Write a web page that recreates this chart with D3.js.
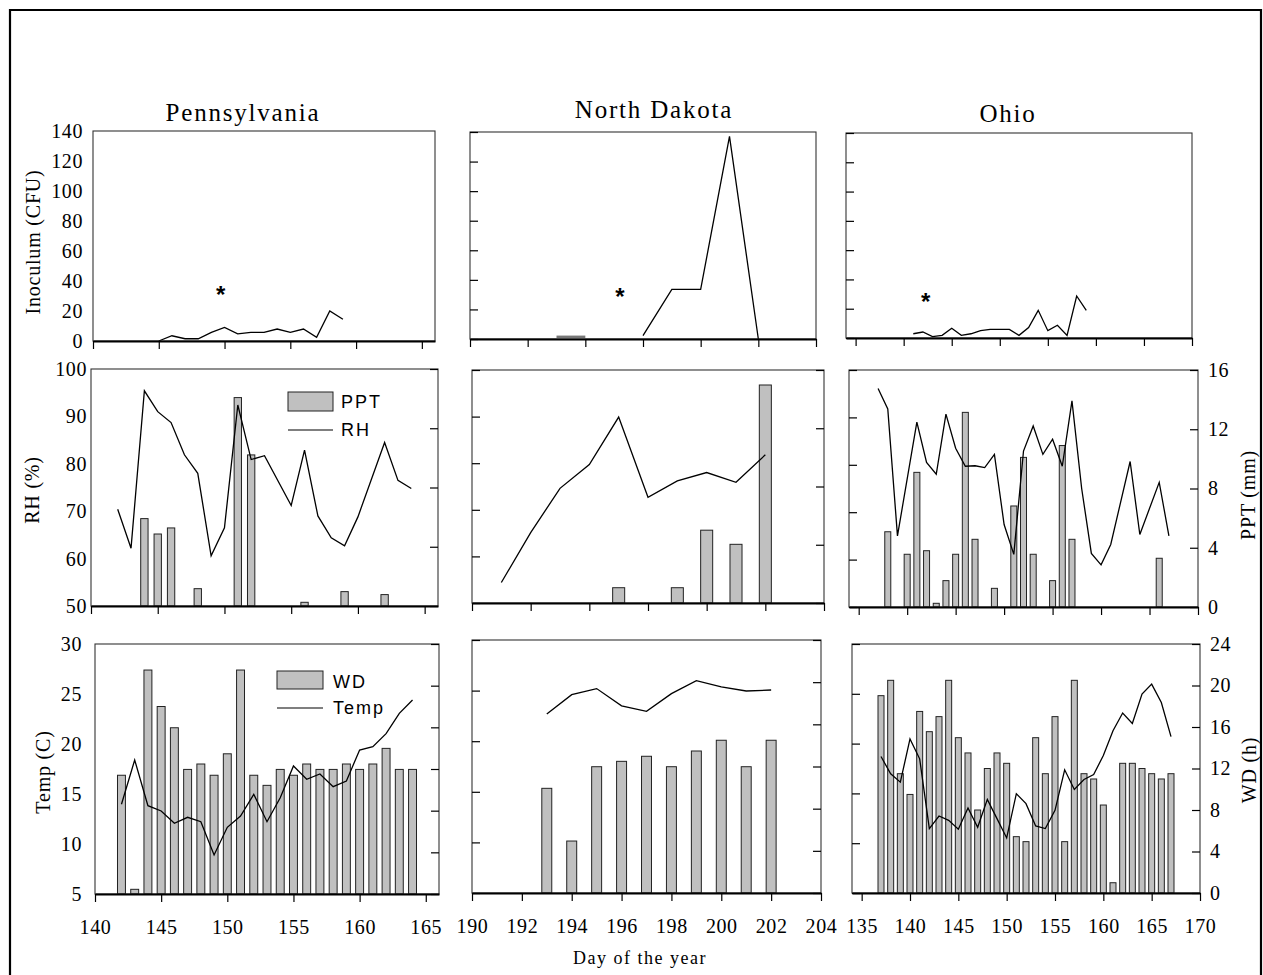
<!DOCTYPE html>
<html><head><meta charset="utf-8">
<script src="https://cdn.jsdelivr.net/npm/d3@7"></script>
<style>body{margin:0;background:#fff}svg{display:block}</style>
</head><body>
<svg id="c" width="1263" height="975"></svg>
<script>
// ---------------- DATA ----------------
const states = ["Pennsylvania", "North Dakota", "Ohio"];

// Inoculum (CFU) [day, value]
const paInoc = [[145,0],[146,3.5],[147,1.5],[148,1.5],[149,5.8],[150,9],[151,4.7],[152,5.8],[153,5.8],[154,8],[155,5.8],[156,8],[157,2.4],[158,20],[159,14.5]];
const ndInocTrace = [[195,1.5],[196,1.5]];
const ndInoc = [[198,2.3],[199,33.6],[200,33.6],[201,137],[202,0]];
const ohInoc = [[141,2.9],[142,4.1],[143,0.9],[144,1.8],[145,6.6],[146,1.8],[147,2.9],[148,5.0],[149,5.9],[150,5.9],[151,5.9],[152,1.8],[153,7.1],[154,18.9],[155,5.0],[156,8.7],[157,1.8],[158,28.7],[159,18.9]];
const paStar = [149.7, 35], ndStar = [197.2, 33], ohStar = [142.3, 29];

// RH (%) and PPT (mm)
const paRH = [[142,70.4],[143,62.2],[144,95.4],[145,91],[146,88.7],[147,81.9],[148,78],[149,60.6],[150,66.5],[151,92.4],[152,80.9],[153,81.7],[155,71.2],[156,82.9],[157,69],[158,64.4],[159,62.7],[160,68.8],[162,84.5],[163,76.5],[164,74.8]];
const paPPT = [[144,5.9],[145,4.86],[146,5.27],[148,1.17],[151,14.07],[152,10.2],[156,0.25],[159,0.97],[162,0.77]];
const ndRH = [[193,54.4],[194,65.1],[195,74.6],[196,79.7],[197,89.9],[198,72.7],[199,76.2],[200,78],[201,75.9],[202,81.8]];
const ndPPT = [[197,1.05],[199,1.05],[200,5.0],[201,4.03],[202,14.97]];
const ohRH = [[137,96.1],[138,91.8],[139,65],[141,89],[142,80.5],[143,78],[144,90.7],[145,83.5],[146,79.7],[147,79.8],[148,79.4],[149,82.2],[150,67.4],[151,61.1],[152,82.9],[153,88.2],[154,82.2],[155,85.4],[156,79.7],[157,93.5],[158,75],[159,61.3],[160,58.9],[161,63.2],[163,80.7],[164,65.3],[166,76.3],[167,65]];
const ohPPT = [[138,5.08],[140,3.56],[141,9.09],[142,3.8],[143,0.25],[144,1.78],[145,3.56],[146,13.14],[147,4.57],[149,1.26],[151,6.82],[152,10.1],[153,3.56],[155,1.78],[156,10.9],[157,4.57],[166,3.29]];

// Temp (C) and WD (h)
const paWD = [[142,11.4],[143,0.45],[144,21.5],[145,18.0],[146,15.96],[147,11.96],[148,12.48],[149,11.4],[150,13.46],[151,21.5],[152,11.4],[153,10.43],[154,11.96],[155,11.4],[156,12.48],[157,11.96],[158,11.96],[159,12.48],[160,11.96],[161,12.48],[162,13.98],[163,11.96],[164,11.96]];
const paTemp = [[142,13.97],[143,18.4],[144,13.83],[145,13.3],[146,12.07],[147,12.67],[148,12.23],[149,8.9],[150,11.67],[151,12.8],[152,14.97],[153,12.23],[154,14.63],[155,17.8],[156,16.47],[157,17.0],[158,15.73],[159,16.3],[160,19.4],[161,19.73],[162,21.03],[163,23.07],[164,24.4]];
const ndWD = [[193,9.93],[194,4.93],[195,11.98],[196,12.49],[197,12.97],[198,11.98],[199,13.47],[200,14.49],[201,11.98],[202,14.49]];
const ndTemp = [[193,22.69],[194,24.6],[195,25.2],[196,23.5],[197,22.95],[198,24.7],[199,25.98],[200,25.36],[201,24.96],[202,25.06]];
const ohWD = [[137,19.02],[138,20.5],[139,11.5],[140,9.5],[141,17.5],[142,15.55],[143,17.0],[144,20.5],[145,14.97],[146,13.5],[147,8.0],[148,12.0],[149,13.5],[150,12.5],[151,5.43],[152,4.95],[153,14.97],[154,11.5],[155,17.0],[156,4.95],[157,20.5],[158,11.5],[159,10.99],[160,8.48],[161,0.99],[162,12.5],[163,12.5],[164,12.0],[165,11.5],[166,10.99],[167,11.5]];
const ohTemp = [[137,18.7],[138,16.97],[139,16.13],[140,20.47],[141,18.47],[142,11.47],[143,12.73],[144,12.3],[145,11.4],[146,13.53],[147,11.6],[148,14.4],[149,12.47],[150,10.53],[151,14.97],[152,13.97],[153,11.73],[154,11.47],[155,13.3],[156,17.37],[157,15.4],[158,16.4],[159,16.9],[160,18.8],[161,21.3],[162,23.07],[163,22.03],[164,24.97],[165,25.97],[166,24.13],[167,20.7]];

// Domains and ticks
const paDom = [140,166], ndDomTop = [192,204], ndDom = [190,204], ohDom = [134,170];
const paDayTicks = [140,145,150,155,160,165];
const ndDayTicksTop = [192,194,196,198,200,202,204];
const ndDayTicks = [190,192,194,196,198,200,202,204];
const ohDayTicks = [135,140,145,150,155,160,165,170];
const inocDom = [0,140], inocTicks = [0,20,40,60,80,100,120,140];
const rhDom = [50,100], rhTicks = [50,60,70,80,90,100];
const pptDom = [0,16], pptTicks = [0,4,8,12,16];
const tempDom = [5,30], tempTicks = [5,10,15,20,25,30];
const wdDom = [0,24], wdTicks = [0,4,8,12,16,20,24];

// ---------------- DRAWING ----------------
const SERIF = "'Liberation Serif','Times New Roman',serif";
const SANS = "'Liberation Sans',Arial,sans-serif";
const svg = d3.select("#c");

// outer frame
svg.append("path").attr("d","M10,990 V10 H1261 V990").attr("fill","none").attr("stroke","#000").attr("stroke-width",2.2);

function panel(p) {
  const [x0,x1,y0,y1] = p.f;
  const x = d3.scaleLinear().domain(p.xDom).range([x0,x1]);
  const yL = d3.scaleLinear().domain(p.yL).range([y1,y0]);
  const yR = p.yR ? d3.scaleLinear().domain(p.yR).range([y1,y0]) : null;
  const g = svg.append("g");

  if (p.bars) {
    const bw = (x(1) - x(0)) * p.bw;
    g.selectAll("rect.bar").data(p.bars).join("rect").attr("class","bar")
      .attr("x", d => x(d[0]) - bw/2).attr("y", d => yR(d[1]))
      .attr("width", bw).attr("height", d => yR(0) - yR(d[1]))
      .attr("fill","#c0c0c0").attr("stroke","#222").attr("stroke-width",1);
  }
  const line = d3.line().x(d => x(d[0])).y(d => yL(d[1]));
  (p.lines || []).forEach(L => {
    g.append("path").datum(L).attr("d", line).attr("fill","none")
      .attr("stroke","#000").attr("stroke-width",1.3).attr("stroke-linejoin","miter");
  });
  if (p.trace) {
    g.append("path").datum(p.trace).attr("d", line).attr("fill","none")
      .attr("stroke","#777").attr("stroke-width",2.4);
  }
  if (p.star) {
    g.append("text").attr("x", x(p.star[0])).attr("y", yL(p.star[1])).attr("dy","0.6em")
      .attr("text-anchor","middle").attr("font-family",SANS).attr("font-weight","bold")
      .attr("font-size",24).text("*");
  }
  // frame
  g.append("rect").attr("x",x0).attr("y",y0).attr("width",x1-x0).attr("height",y1-y0)
    .attr("fill","none").attr("stroke","#333").attr("stroke-width",1.1);

  // bottom axis
  const bx = g.append("g").attr("transform",`translate(0,${y1})`)
    .call(d3.axisBottom(x).tickValues(p.xTicks).tickSize(8).tickSizeOuter(0).tickPadding(18)
      .tickFormat(p.xLabels ? d3.format("d") : ""));
  bx.select(".domain").attr("stroke","#000").attr("stroke-width",1.8);
  bx.selectAll(".tick line").attr("stroke","#000").attr("stroke-width",1.2);

  // left
  if (p.leftLabels) {
    const a = g.append("g").attr("transform",`translate(${x0},0)`)
      .call(d3.axisLeft(yL).tickValues(p.yLTicks).tickSize(0).tickPadding(p.lp));
    a.select(".domain").remove();
  } else {
    const a = g.append("g").attr("transform",`translate(${x0},0)`)
      .call(d3.axisRight(yL).tickValues(p.yLTicks).tickSize(8).tickFormat(""));
    a.select(".domain").remove();
    a.selectAll(".tick line").attr("stroke","#000").attr("stroke-width",1.2);
  }
  // right
  if (yR) {
    const a = g.append("g").attr("transform",`translate(${x1},0)`)
      .call(d3.axisLeft(yR).tickValues(p.yRTicks).tickSize(8).tickFormat(""));
    a.select(".domain").remove();
    a.selectAll(".tick line").attr("stroke","#000").attr("stroke-width",1.2);
    if (p.rightLabels) {
      const b = g.append("g").attr("transform",`translate(${x1},0)`)
        .call(d3.axisRight(yR).tickValues(p.yRTicks).tickSize(0).tickPadding(10));
      b.select(".domain").remove();
    }
  }
  g.selectAll(".tick text").attr("font-family",SERIF).attr("font-size",20)
    .attr("letter-spacing",0.6).attr("fill","#000");
}

const panels = [
  {f:[93,435,131,341], xDom:paDom, xTicks:paDayTicks, yL:inocDom, yLTicks:inocTicks, leftLabels:true, lp:10, lines:[paInoc], star:paStar},
  {f:[470,816,132,339], xDom:ndDomTop, xTicks:ndDayTicksTop, yL:inocDom, yLTicks:inocTicks, lines:[ndInoc], trace:ndInocTrace, star:ndStar},
  {f:[846,1192,133,338], xDom:ohDom, xTicks:ohDayTicks, yL:inocDom, yLTicks:inocTicks, lines:[ohInoc], star:ohStar},

  {f:[91,438,369,606], xDom:paDom, xTicks:paDayTicks, yL:rhDom, yLTicks:rhTicks, leftLabels:true, lp:4,
   yR:pptDom, yRTicks:pptTicks, bars:paPPT, bw:0.55, lines:[paRH]},
  {f:[472,824,370,603], xDom:ndDomTop, xTicks:ndDayTicksTop, yL:rhDom, yLTicks:rhTicks,
   yR:pptDom, yRTicks:pptTicks, bars:ndPPT, bw:0.41, lines:[ndRH]},
  {f:[849,1198,370,607], xDom:ohDom, xTicks:ohDayTicks, yL:rhDom, yLTicks:rhTicks,
   yR:pptDom, yRTicks:pptTicks, rightLabels:true, bars:ohPPT, bw:0.62, lines:[ohRH]},

  {f:[95,439,644,894], xDom:paDom, xTicks:paDayTicks, xLabels:true, yL:tempDom, yLTicks:tempTicks, leftLabels:true, lp:13,
   yR:wdDom, yRTicks:wdTicks, bars:paWD, bw:0.6, lines:[paTemp]},
  {f:[472,821,640,893], xDom:ndDom, xTicks:ndDayTicks, xLabels:true, yL:tempDom, yLTicks:tempTicks,
   yR:wdDom, yRTicks:wdTicks, bars:ndWD, bw:0.4, lines:[ndTemp]},
  {f:[852,1200,644,893], xDom:ohDom, xTicks:ohDayTicks, xLabels:true, yL:tempDom, yLTicks:tempTicks,
   yR:wdDom, yRTicks:wdTicks, rightLabels:true, bars:ohWD, bw:0.62, lines:[ohTemp]}
];
panels.forEach(panel);

// titles
const titlePos = [[243,121],[654,118],[1008,122]];
states.forEach((s,i) => {
  svg.append("text").attr("x",titlePos[i][0]).attr("y",titlePos[i][1]).attr("text-anchor","middle")
    .attr("font-family",SERIF).attr("font-size",25).attr("letter-spacing",1.8).text(s);
});

// axis titles
function vText(t, cx, cy, size, ls) {
  svg.append("text").attr("transform",`translate(${cx},${cy}) rotate(-90)`)
    .attr("text-anchor","middle").attr("dy","0.35em")
    .attr("font-family",SERIF).attr("font-size",size).attr("letter-spacing",ls).text(t);
}
vText("Inoculum (CFU)", 33, 242, 20, 0.8);
vText("RH (%)", 32, 490, 20, 0.8);
vText("Temp (C)", 43, 772, 20, 0.8);
vText("PPT (mm)", 1248, 495, 20, 0.8);
vText("WD (h)", 1249, 770, 20, 0.8);
svg.append("text").attr("x",640).attr("y",964).attr("text-anchor","middle")
  .attr("font-family",SERIF).attr("font-size",18).attr("letter-spacing",1.5).text("Day of the year");

// legends
function legend(bx, by, bw, bh, tx, t1y, ly, t2y, l1, l2) {
  svg.append("rect").attr("x",bx).attr("y",by).attr("width",bw).attr("height",bh)
    .attr("fill","#c0c0c0").attr("stroke","#222").attr("stroke-width",1);
  svg.append("line").attr("x1",bx).attr("x2",bx+bw).attr("y1",ly).attr("y2",ly)
    .attr("stroke","#000").attr("stroke-width",1.2);
  svg.append("text").attr("x",tx).attr("y",t1y).attr("font-family",SANS).attr("font-size",18).attr("letter-spacing",2).text(l1);
  svg.append("text").attr("x",tx).attr("y",t2y).attr("font-family",SANS).attr("font-size",18).attr("letter-spacing",2).text(l2);
}
legend(288,392,45,19,341,408,430,436,"PPT","RH");
legend(277,671,46,18,333,688,708,714,"WD","Temp");
</script>
</body></html>
